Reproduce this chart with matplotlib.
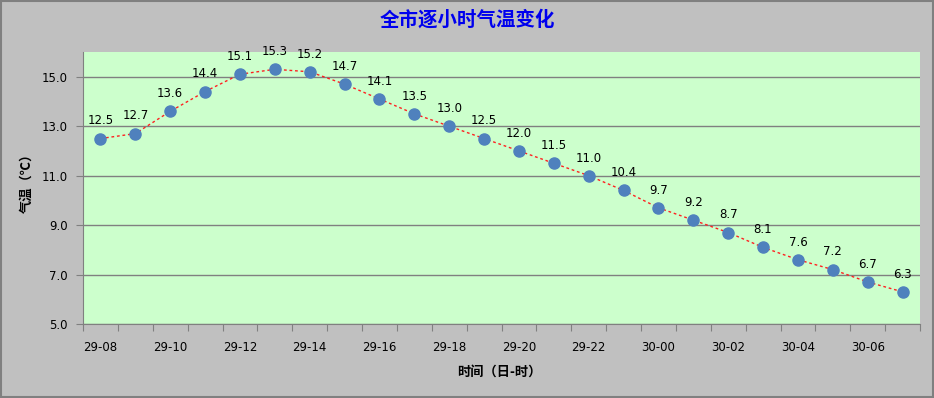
import matplotlib
matplotlib.use("Agg")
import matplotlib.pyplot as plt
from matplotlib.patches import Rectangle

plt.rcParams['font.family'] = ['Noto Sans CJK SC', 'DejaVu Sans']

hours = ["29-08", "29-09", "29-10", "29-11", "29-12", "29-13", "29-14", "29-15",
         "29-16", "29-17", "29-18", "29-19", "29-20", "29-21", "29-22", "29-23",
         "30-00", "30-01", "30-02", "30-03", "30-04", "30-05", "30-06", "30-07"]
temps = [12.5, 12.7, 13.6, 14.4, 15.1, 15.3, 15.2, 14.7, 14.1, 13.5, 13.0, 12.5,
         12.0, 11.5, 11.0, 10.4, 9.7, 9.2, 8.7, 8.1, 7.6, 7.2, 6.7, 6.3]
yticks = [5.0, 7.0, 9.0, 11.0, 13.0, 15.0]

fig = plt.figure(figsize=(9.34, 3.98), dpi=100, facecolor='#c0c0c0')
ax = fig.add_axes([83/934, 74/398, 837/934, 272/398])
ax.set_facecolor('#ccffcc')

n = len(hours)
xs = [i + 0.5 for i in range(n)]
ax.plot(xs, temps, color='#ff2020', lw=1.0, ls=(0, (2, 2)), zorder=3)
ax.plot(xs, temps, ls='none', marker='o', ms=8, color='#4f81bd', zorder=4)
for x, t in zip(xs, temps):
    ax.annotate(f"{t:.1f}", (x, t), xytext=(0, 8), textcoords='offset points',
                ha='center', va='bottom', fontsize=8.5, color='black', family='DejaVu Sans')

ax.set_xlim(0, n)
ax.set_ylim(5.0, 16.0)
ax.set_yticks(yticks)
ax.set_yticklabels([f"{v:.1f}" for v in yticks], family='DejaVu Sans', fontsize=8.5)
ax.set_xticks(range(n + 1), minor=False)
ax.set_xticklabels([])
ax.set_xticks(xs[::2], minor=True)
ax.set_xticklabels(hours[::2], minor=True, family='DejaVu Sans', fontsize=8.5)
ax.tick_params(axis='x', which='major', length=5, color='#808080', direction='out')
ax.tick_params(axis='x', which='minor', length=0, pad=12)
ax.tick_params(axis='y', length=5, color='#808080', pad=6)
ax.grid(axis='y', color='#808080', lw=1.0)
ax.set_axisbelow(True)
for s in ['top', 'right']:
    ax.spines[s].set_visible(False)
for s in ['left', 'bottom']:
    ax.spines[s].set_color('#808080')

fig.text(0.5, 0.95, "全市逐小时气温变化", ha='center', va='center', color='#0000ee',
         fontsize=14, fontweight='bold')
fig.text(499/934, 1 - 372/398, "时间（日-时）", ha='center', va='center',
         fontsize=9.5, fontweight='bold')
fig.text(27/934, 1 - 180/398, "气温（℃）", ha='center', va='center', rotation=90,
         fontsize=9.5, fontweight='bold')

fig.patches.append(Rectangle((0.001, 0.002), 0.998, 0.996, transform=fig.transFigure,
                             fill=False, ec='#808080', lw=1.5))

fig.savefig("out.png", dpi=100, facecolor=fig.get_facecolor())
